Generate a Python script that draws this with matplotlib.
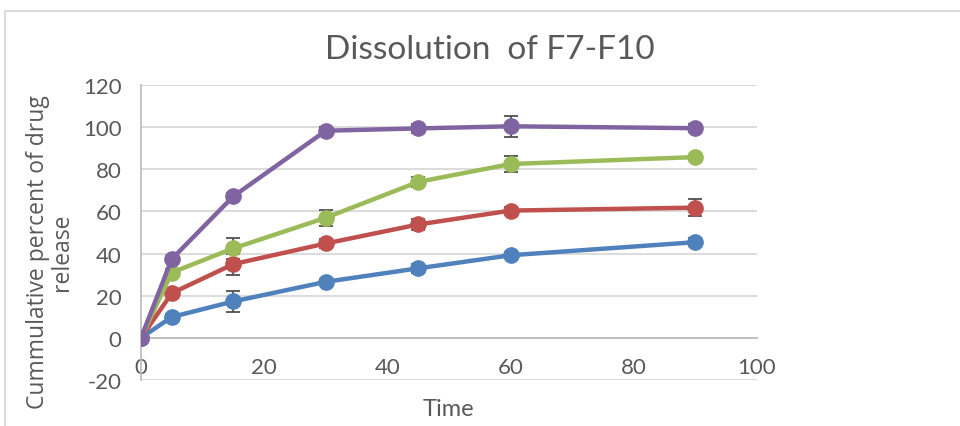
import matplotlib
matplotlib.use("Agg")
import matplotlib.pyplot as plt
from matplotlib.patches import Rectangle

plt.rcParams["axes.unicode_minus"] = False

# Sampling times (min)
time = [0, 5, 15, 30, 45, 60, 90]

# Cumulative drug release (%) per formulation, with SD
f7 = [0, 9.9, 17.3, 26.6, 33.0, 39.2, 45.4]
f7_sd = [0, 1.5, 4.9, 1.5, 2.0, 1.5, 2.0]
f8 = [0, 21.2, 35.0, 44.8, 53.8, 60.4, 61.8]
f8_sd = [0, 1.5, 5.0, 2.0, 2.5, 1.5, 4.0]
f9 = [0, 31.0, 42.5, 57.0, 74.0, 82.5, 85.8]
f9_sd = [0, 1.5, 5.0, 3.9, 2.5, 3.9, 1.0]
f10 = [0, 37.4, 67.2, 98.3, 99.4, 100.4, 99.5]
f10_sd = [0, 1.5, 1.5, 2.0, 2.0, 5.0, 2.0]

series = [
    ("F7", f7, f7_sd, "#4f81bd"),
    ("F8", f8, f8_sd, "#c0504d"),
    ("F9", f9, f9_sd, "#9bbb59"),
    ("F10", f10, f10_sd, "#8064a2"),
]

narrow = ["Liberation Sans Narrow", "Lato", "DejaVu Sans"]
txt_color = "#595959"

fig = plt.figure(figsize=(9.6, 4.27), dpi=100)
ax = fig.add_axes([141 / 960, 1 - 381 / 427, (757 - 141) / 960, (381 - 86) / 427])

for name, vals, sd, col in series:
    ax.errorbar(time, vals, yerr=sd, color=col, lw=3.2, marker="o", ms=11,
                mfc=col, mec=col, ecolor="#505050", elinewidth=1.3,
                capsize=5, capthick=1.3, zorder=3, label=name)

ax.set_xlim(0, 100)
ax.set_ylim(-20, 120)
ax.set_xticks(range(0, 101, 20))
ax.set_yticks(range(-20, 121, 20))

ax.grid(axis="y", color="#d9d9d9", lw=1.3, zorder=0)
ax.set_axisbelow(True)

for s in ("top", "right"):
    ax.spines[s].set_visible(False)
ax.spines["left"].set_color("#bfbfbf")
ax.spines["left"].set_linewidth(1.3)
ax.spines["bottom"].set_position(("data", 0))
ax.spines["bottom"].set_color("#bfbfbf")
ax.spines["bottom"].set_linewidth(1.3)

ax.tick_params(axis="both", length=0, colors=txt_color)
ax.tick_params(axis="x", pad=14)
ax.tick_params(axis="y", pad=14)
for lab in ax.get_xticklabels() + ax.get_yticklabels():
    lab.set_family(narrow)
    lab.set_fontsize(16)

fig.text(448 / 960, 1 - 410 / 427, "Time", ha="center", va="center",
         fontsize=17, color=txt_color, family=narrow)
fig.text(50 / 960, 1 - 252 / 427, "Cummulative percent of drug\nrelease",
         rotation=90, ha="center", va="center", fontsize=16.5,
         color=txt_color, family=["Open Sans", "DejaVu Sans"],
         linespacing=1.05)
fig.text(490 / 960, 1 - 50 / 427, "Dissolution  of F7-F10", ha="center",
         va="center", fontsize=24, color=txt_color, family=narrow)

# Chart area border
fig.patches.append(Rectangle((5 / 960, -0.1), 1.2, 1 - 12 / 427 + 0.1,
                             transform=fig.transFigure, fill=False,
                             ec="#d9d9d9", lw=1.3))

fig.savefig("out.png", dpi=100)
